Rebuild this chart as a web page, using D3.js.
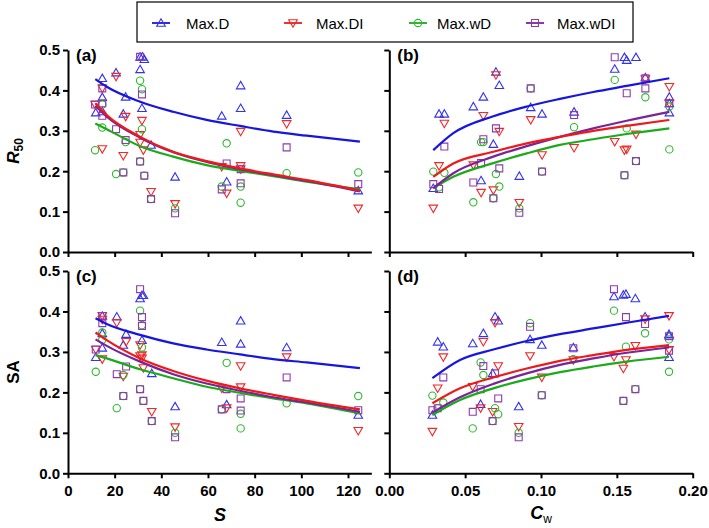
<!DOCTYPE html>
<html><head><meta charset="utf-8">
<script src="https://cdn.jsdelivr.net/npm/d3@7"></script>
<style>body{margin:0;background:#fff;} text{font-family:"Liberation Sans",Arial,sans-serif;}</style>
</head><body>
<script>
// ---------- DATA ----------
const seriesNames = ["Max.D","Max.DI","Max.wD","Max.wDI"];
const sTicks = [0,20,40,60,80,100,120];
const cwTicks = [0,0.05,0.10,0.15,0.20];
const yTicks = [0,0.1,0.2,0.3,0.4,0.5];

// Panel (a): R50 vs S
const aD = [[11.9,0.345],[14.7,0.43],[14.7,0.383],[14.7,0.348],[20.6,0.444],[23.7,0.342],[24.7,0.384],[30.9,0.483],[31.9,0.483],[32.7,0.477],[30.9,0.452],[31.7,0.356],[35.6,0.265],[45.9,0.186],[65.9,0.337],[68,0.174],[74,0.412],[74,0.356],[93.7,0.339],[124.4,0.152]];
const aDI = [[11.6,0.365],[14.7,0.405],[14.7,0.255],[20.6,0.434],[23.7,0.238],[24.7,0.335],[31.7,0.325],[30.9,0.29],[30.9,0.271],[32.3,0.252],[35.6,0.149],[45.9,0.119],[65.9,0.211],[68,0.145],[74,0.298],[74,0.213],[74,0.205],[93.7,0.317],[124.4,0.108]];
const awD = [[11.6,0.252],[14.7,0.308],[14.7,0.365],[20.6,0.193],[23.7,0.197],[24.7,0.272],[30.9,0.424],[31.7,0.403],[31.7,0.304],[30.9,0.224],[32.7,0.189],[35.6,0.131],[45.9,0.108],[65.9,0.162],[68,0.269],[74,0.162],[74,0.122],[93.7,0.195],[124.4,0.197]];
const awDI = [[11.6,0.365],[14.7,0.405],[14.7,0.368],[14.7,0.337],[20.6,0.304],[23.7,0.197],[24.7,0.277],[30.9,0.483],[31.7,0.39],[30.9,0.224],[32.7,0.189],[35.6,0.131],[45.9,0.096],[65.9,0.155],[68,0.219],[74,0.17],[74,0.205],[93.7,0.259],[124.4,0.168]];
const aFitX = [11.7,16.6,30.9,45.1,59.4,73.7,88,102.3,125.1];
const aFitD = [0.428,0.409,0.372,0.347,0.327,0.312,0.298,0.288,0.273];
const aFitDI = [0.368,0.339,0.285,0.248,0.225,0.207,0.192,0.178,0.152];
const aFitwD = [0.318,0.304,0.262,0.236,0.215,0.201,0.188,0.174,0.155];
const aFitwDI = [0.362,0.335,0.283,0.247,0.223,0.205,0.19,0.176,0.15];

// Panel (b): R50 vs Cw
const bD = [[0.029,0.158],[0.0328,0.342],[0.0363,0.342],[0.0554,0.36],[0.0605,0.177],[0.062,0.384],[0.0686,0.267],[0.0703,0.446],[0.0725,0.413],[0.0857,0.188],[0.0932,0.358],[0.1007,0.342],[0.1218,0.347],[0.1486,0.453],[0.155,0.482],[0.1565,0.475],[0.1626,0.482],[0.1688,0.432],[0.1846,0.384],[0.1846,0.368],[0.1846,0.345]];
const bDI = [[0.029,0.108],[0.0328,0.213],[0.0363,0.318],[0.0554,0.215],[0.0605,0.147],[0.062,0.337],[0.0686,0.153],[0.0703,0.438],[0.0725,0.298],[0.0857,0.122],[0.0932,0.327],[0.1007,0.24],[0.1218,0.258],[0.1486,0.273],[0.155,0.252],[0.1565,0.254],[0.1626,0.291],[0.1688,0.428],[0.1846,0.409],[0.1846,0.368]];
const bwD = [[0.029,0.199],[0.0363,0.196],[0.0328,0.16],[0.0554,0.123],[0.0605,0.272],[0.062,0.272],[0.0686,0.133],[0.0703,0.193],[0.0725,0.162],[0.0857,0.108],[0.0932,0.405],[0.1007,0.199],[0.1218,0.309],[0.1486,0.426],[0.155,0.19],[0.1565,0.306],[0.1626,0.225],[0.1688,0.383],[0.1846,0.254],[0.1846,0.36]];
const bwDI = [[0.029,0.168],[0.0328,0.156],[0.0363,0.261],[0.0554,0.172],[0.0605,0.22],[0.062,0.279],[0.0686,0.133],[0.0703,0.306],[0.0725,0.207],[0.0857,0.097],[0.0932,0.405],[0.1007,0.199],[0.1218,0.339],[0.1486,0.482],[0.155,0.19],[0.1565,0.393],[0.1626,0.225],[0.1688,0.405],[0.1688,0.43],[0.1846,0.368]];
const bFitX = [0.029,0.0422,0.0686,0.0906,0.1125,0.1345,0.1565,0.1846];
const bFitD = [0.252,0.294,0.336,0.36,0.379,0.396,0.411,0.43];
const bFitDI = [0.186,0.219,0.248,0.269,0.285,0.3,0.312,0.327];
const bFitwD = [0.158,0.186,0.22,0.244,0.265,0.279,0.292,0.306];
const bFitwDI = [0.158,0.195,0.236,0.262,0.285,0.306,0.325,0.347];

// Panel (c): SA vs S
const cD = [[11.9,0.287],[14.7,0.389],[14.7,0.346],[14.7,0.31],[20.9,0.387],[23.7,0.317],[24.9,0.344],[30.9,0.432],[31.7,0.44],[32.3,0.44],[31.7,0.329],[35.9,0.247],[45.9,0.165],[65.9,0.324],[68,0.17],[74,0.377],[74,0.32],[93.7,0.311],[124.4,0.144]];
const cDI = [[11.9,0.306],[14.7,0.389],[14.7,0.38],[14.7,0.282],[20.9,0.372],[23.7,0.239],[24.9,0.325],[30.9,0.317],[31.7,0.292],[31.7,0.284],[30.9,0.29],[32.3,0.26],[35.9,0.152],[45.9,0.114],[65.9,0.21],[68,0.161],[74,0.265],[74,0.213],[93.7,0.287],[124.4,0.105]];
const cwD = [[11.9,0.251],[14.7,0.348],[14.7,0.33],[20.9,0.161],[23.7,0.191],[23.7,0.243],[30.9,0.402],[31.7,0.366],[31.7,0.311],[30.9,0.208],[32.3,0.179],[35.9,0.129],[45.9,0.1],[65.9,0.158],[68,0.273],[74,0.147],[74,0.111],[93.7,0.173],[124.4,0.191]];
const cwDI = [[11.9,0.306],[14.7,0.389],[14.7,0.371],[20.9,0.245],[23.7,0.191],[24.9,0.264],[30.9,0.455],[31.7,0.386],[31.7,0.364],[30.9,0.208],[32.3,0.179],[35.9,0.129],[45.9,0.089],[65.9,0.158],[68,0.208],[74,0.185],[74,0.155],[93.7,0.237],[124.4,0.156]];
const cFitX = [11.8,16.6,30.9,45.1,59.4,73.7,88,102.3,125.1];
const cFitD = [0.383,0.369,0.342,0.321,0.306,0.294,0.282,0.274,0.26];
const cFitDI = [0.348,0.329,0.284,0.253,0.229,0.21,0.194,0.179,0.158];
const cFitwD = [0.292,0.284,0.257,0.235,0.214,0.199,0.185,0.173,0.148];
const cFitwDI = [0.331,0.315,0.276,0.245,0.222,0.204,0.188,0.175,0.152];

// Panel (d): SA vs Cw
const dD = [[0.0284,0.144],[0.0319,0.325],[0.0356,0.313],[0.055,0.321],[0.0602,0.171],[0.062,0.346],[0.0681,0.247],[0.0697,0.387],[0.0718,0.377],[0.0853,0.165],[0.0928,0.331],[0.1005,0.317],[0.1213,0.311],[0.1481,0.437],[0.1543,0.441],[0.156,0.443],[0.1622,0.432],[0.1686,0.387],[0.1844,0.344],[0.1844,0.34],[0.1844,0.287]];
const dDI = [[0.0284,0.103],[0.0319,0.21],[0.0356,0.287],[0.055,0.214],[0.0602,0.161],[0.062,0.325],[0.0681,0.152],[0.0697,0.372],[0.0718,0.265],[0.0853,0.115],[0.0928,0.29],[0.1005,0.237],[0.1213,0.28],[0.1481,0.288],[0.1543,0.259],[0.156,0.28],[0.1622,0.315],[0.1686,0.381],[0.1844,0.389],[0.1844,0.305]];
const dwD = [[0.0284,0.192],[0.0356,0.175],[0.0319,0.161],[0.055,0.111],[0.0602,0.274],[0.062,0.243],[0.0681,0.129],[0.0697,0.161],[0.0718,0.146],[0.0853,0.1],[0.0928,0.371],[0.1005,0.193],[0.1213,0.282],[0.1481,0.402],[0.1543,0.179],[0.156,0.313],[0.1622,0.208],[0.1686,0.346],[0.1844,0.251],[0.1844,0.331]];
const dwDI = [[0.0284,0.156],[0.0319,0.161],[0.0356,0.237],[0.055,0.152],[0.0602,0.208],[0.062,0.265],[0.0681,0.129],[0.0697,0.247],[0.0718,0.185],[0.0853,0.089],[0.0928,0.362],[0.1005,0.193],[0.1213,0.309],[0.1481,0.455],[0.1543,0.179],[0.156,0.386],[0.1622,0.208],[0.1686,0.369],[0.1844,0.339],[0.1844,0.303]];
const dFitX = [0.0284,0.0466,0.0686,0.0906,0.1125,0.1345,0.1565,0.1844];
const dFitD = [0.235,0.28,0.306,0.327,0.344,0.358,0.372,0.389];
const dFitDI = [0.173,0.21,0.237,0.259,0.278,0.292,0.305,0.317];
const dFitwD = [0.144,0.181,0.21,0.232,0.25,0.264,0.276,0.288];
const dFitwDI = [0.15,0.188,0.221,0.247,0.268,0.284,0.298,0.311];

// ---------- STYLE ----------
const lineColors = ["#1616e0","#ee1a1a","#1aaa1a","#7a2498"];
const markColors = ["#3333ee","#f02828","#2db82d","#8e3aae"];

const W = 709, H = 528;
const svg = d3.select("body").append("svg").attr("width", W).attr("height", H);

const xS = d3.scaleLinear().domain([0,130]).range([68, 68 + 130*2.3333]);
const xC = d3.scaleLinear().domain([0,0.2]).range([389.3, 692.7]);
const yTop = d3.scaleLinear().domain([0,0.5]).range([252, 50]);
const yBot = d3.scaleLinear().domain([0,0.5]).range([473.3, 271]);

function markerPath(i){
  if (i===0 || i===1) return d3.symbol().type(d3.symbolTriangle).size(32)();
  if (i===2) return d3.symbol().type(d3.symbolCircle).size(42)();
  return d3.symbol().type(d3.symbolSquare).size(48)();
}
function drawMarker(g, i, x, y){
  const rot = i===1 ? 180 : 0;
  const dy = i===0 ? 0.8 : (i===1 ? -0.8 : 0);
  g.append("path").attr("d", markerPath(i))
    .attr("transform", `translate(${x},${y+dy}) rotate(${rot})`)
    .attr("fill","none").attr("stroke", markColors[i]).attr("stroke-width",1.1);
}

function panel(x, y, xTickVals, xFmt, showXLabels, showYLabels, label, pts, fitX, fits){
  const g = svg.append("g");
  pts.forEach((arr,i)=>{
    arr.forEach(d=> drawMarker(g, i, x(d[0]), y(d[1])));
  });
  const line = d3.line().x(d=>x(d[0])).y(d=>y(d[1])).curve(d3.curveMonotoneX);
  [0,2,3,1].forEach(i=>{
    g.append("path").attr("d", line(d3.zip(fitX, fits[i])))
      .attr("fill","none").attr("stroke", lineColors[i]).attr("stroke-width",2.2);
  });
  const xa = d3.axisBottom(x).tickValues(xTickVals).tickSize(5).tickSizeOuter(0)
    .tickFormat(showXLabels ? xFmt : "");
  const gx = g.append("g").attr("transform", `translate(0,${y(0)})`).call(xa);
  const ya = d3.axisLeft(y).tickValues(yTicks).tickSize(5).tickSizeOuter(0)
    .tickFormat(showYLabels ? d3.format(".1f") : "");
  const gy = g.append("g").attr("transform", `translate(${x.range()[0]},0)`).call(ya);
  [gx,gy].forEach(a=>{
    a.select(".domain").attr("stroke","#000").attr("stroke-width",2);
    a.selectAll(".tick line").attr("stroke","#000").attr("stroke-width",2);
    a.selectAll(".tick text").attr("fill","#000")
      .style("font-family","'Liberation Sans',Arial,sans-serif")
      .style("font-weight","bold").style("font-size","15px");
  });
  gx.selectAll(".tick text").attr("dy","1.0em");
  gy.selectAll(".tick text").attr("x",-8);
  g.append("text").attr("x", x.range()[0] + 8).attr("y", y(0.5) + 11)
    .attr("font-weight","bold").attr("font-size","17px").text(label);
}

panel(xS, yTop, sTicks, d3.format("d"), false, true, "(a)", [aD,aDI,awD,awDI], aFitX, [aFitD,aFitDI,aFitwD,aFitwDI]);
panel(xC, yTop, cwTicks, d3.format(".2f"), false, false, "(b)", [bD,bDI,bwD,bwDI], bFitX, [bFitD,bFitDI,bFitwD,bFitwDI]);
panel(xS, yBot, sTicks, d3.format("d"), true, true, "(c)", [cD,cDI,cwD,cwDI], cFitX, [cFitD,cFitDI,cFitwD,cFitwDI]);
panel(xC, yBot, cwTicks, d3.format(".2f"), true, false, "(d)", [dD,dDI,dwD,dwDI], dFitX, [dFitD,dFitDI,dFitwD,dFitwDI]);

// axis titles
const r50 = svg.append("text").attr("transform","translate(19,151) rotate(-90)")
  .attr("text-anchor","middle").attr("font-weight","bold").attr("font-size","17px");
r50.append("tspan").attr("font-style","italic").text("R");
r50.append("tspan").attr("font-size","12px").attr("dy","4").text("50");
svg.append("text").attr("transform","translate(19,372) rotate(-90)")
  .attr("text-anchor","middle").attr("font-weight","bold").attr("font-size","17px").text("SA");
svg.append("text").attr("x", 220).attr("y", 521).attr("text-anchor","middle")
  .attr("font-weight","bold").attr("font-style","italic").attr("font-size","18px").text("S");
const cw = svg.append("text").attr("x", 541).attr("y", 519).attr("text-anchor","middle")
  .attr("font-weight","bold").attr("font-size","18px");
cw.append("tspan").attr("font-style","italic").text("C");
cw.append("tspan").attr("font-size","12px").attr("font-weight","normal").attr("dy","4").text("w");

// legend
const leg = svg.append("g");
leg.append("rect").attr("x",137).attr("y",2).attr("width",496).attr("height",40)
  .attr("fill","#fff").attr("stroke","#000").attr("stroke-width",1.2);
const legMarkX = [161,293,418,535];
const legTextX = [186,316,437,557];
seriesNames.forEach((n,i)=>{
  const mx = legMarkX[i];
  leg.append("line").attr("x1",mx-9).attr("x2",mx+9).attr("y1",23).attr("y2",23)
    .attr("stroke", lineColors[i]).attr("stroke-width",1.8);
  drawMarker(leg, i, mx, 23);
  leg.append("text").attr("x", legTextX[i]).attr("y", 28.5).attr("font-size","15px").attr("fill","#000").text(n);
});
</script>
</body></html>
